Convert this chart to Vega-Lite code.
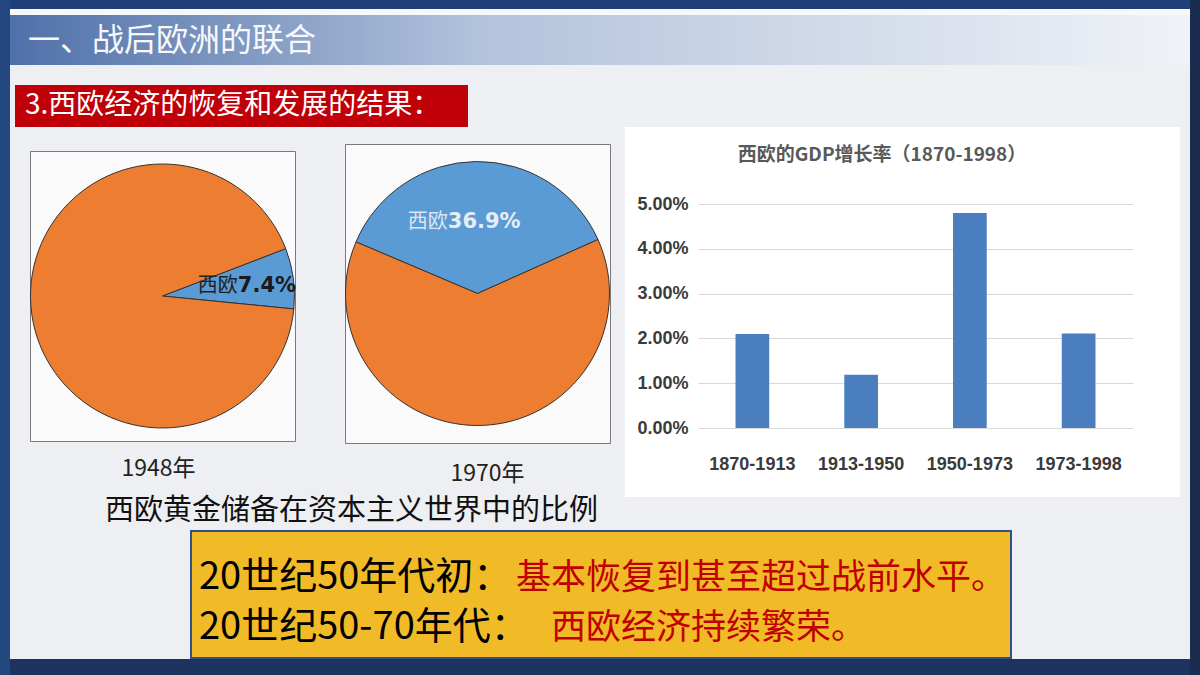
{
  "$schema": "https://vega.github.io/schema/vega-lite/v6.json",
  "background": "#eeeff2",
  "padding": 0,
  "config": {"view": {"stroke": null}, "font": "Noto Sans CJK SC", "concat": {"spacing": 0}},
  "hconcat": [
    {"width": 10, "height": 675, "view": {"fill": "#23477f"}, "data": {"values": []}, "mark": "point"},
    {
      "vconcat": [
        {"width": 1180, "height": 9, "view": {"fill": "#1e3f77"}, "data": {"values": []}, "mark": "point"},
        {"width": 1180, "height": 6, "view": {"fill": "#f7f8fa"}, "data": {"values": []}, "mark": "point"},
        {
          "width": 1180, "height": 50,
          "view": {"fill": {"gradient": "linear", "x1": 0, "y1": 0, "x2": 1, "y2": 0, "stops": [{"offset": 0, "color": "#4f70a9"}, {"offset": 0.4, "color": "#b3c3dc"}, {"offset": 1, "color": "#f0f2f7"}]}},
          "data": {"values": [{"t": "一、战后欧洲的联合"}]},
          "mark": {"type": "text", "align": "left", "baseline": "middle", "fontSize": 32, "font": "Noto Sans CJK SC", "color": "#f6f8fb"},
          "encoding": {"text": {"field": "t"}, "x": {"value": 18}, "y": {"value": 26}}
        },
        {"width": 1180, "height": 20, "data": {"values": []}, "mark": "point"},
        {
          "hconcat": [
            {"width": 5, "height": 42, "data": {"values": []}, "mark": "point"},
            {
              "width": 453, "height": 42,
              "view": {"fill": "#c00008"},
              "data": {"values": [{"t": "3.西欧经济的恢复和发展的结果："}]},
              "mark": {"type": "text", "align": "left", "baseline": "middle", "fontSize": 28, "font": "Noto Sans CJK SC", "color": "#ffffff"},
              "encoding": {"text": {"field": "t"}, "x": {"value": 10}, "y": {"value": 21}}
            }
          ],
          "spacing": 0
        },
        {
          "hconcat": [
            {"width": 18, "height": 370, "data": {"values": []}, "mark": "point"},
            {
              "vconcat": [
                {"width": 265, "height": 23, "data": {"values": []}, "mark": "point"},
                {
                  "width": 265, "height": 290,
                  "view": {"fill": "#fafafa", "stroke": "#7a7a7a", "strokeWidth": 1},
                  "title": {"text": "1948年", "orient": "bottom", "offset": 17, "dx": -4, "fontSize": 23, "font": "Noto Sans CJK SC", "fontWeight": "normal", "color": "#222222", "anchor": "middle"},
                  "data": {"values": [{"region": "西欧", "share": 0.074}, {"region": "其他", "share": 0.926}]},
                  "encoding": {
                    "theta": {"field": "share", "type": "quantitative", "stack": true, "scale": {"range": [1.204, 7.487]}},
                    "order": {"field": "share", "type": "quantitative", "sort": "ascending"}
                  },
                  "layer": [
                    {"mark": {"type": "arc", "outerRadius": 132, "stroke": "#333333", "strokeWidth": 1},
                     "encoding": {"color": {"field": "region", "type": "nominal", "scale": {"domain": ["西欧", "其他"], "range": ["#5b9bd5", "#ed7d31"]}, "legend": null}}},
                    {"transform": [{"filter": "datum.region === '西欧'"}],
                     "mark": {"type": "text", "text": "西欧", "radius": 76, "align": "right", "baseline": "middle", "fontSize": 20, "font": "Noto Sans CJK SC", "color": "#222222"}},
                    {"transform": [{"filter": "datum.region === '西欧'"}],
                     "mark": {"type": "text", "radius": 76, "align": "left", "baseline": "middle", "fontSize": 21, "fontWeight": "bold", "font": "DejaVu Sans", "color": "#1a1a1a"},
                     "encoding": {"text": {"field": "share", "type": "quantitative", "format": ".1%"}}}
                  ]
                }
              ],
              "spacing": 0
            },
            {"width": 46, "height": 370, "data": {"values": []}, "mark": "point"},
            {
              "vconcat": [
                {"width": 265, "height": 16, "data": {"values": []}, "mark": "point"},
                {
                  "width": 265, "height": 299,
                  "view": {"fill": "#fafafa", "stroke": "#7a7a7a", "strokeWidth": 1},
                  "title": {"text": "1970年", "orient": "bottom", "offset": 20, "dx": 10, "fontSize": 23, "font": "Noto Sans CJK SC", "fontWeight": "normal", "color": "#222222", "anchor": "middle"},
                  "data": {"values": [{"region": "西欧", "share": 0.369}, {"region": "其他", "share": 0.631}]},
                  "encoding": {
                    "theta": {"field": "share", "type": "quantitative", "stack": true, "scale": {"range": [-1.169, 5.114]}},
                    "order": {"field": "share", "type": "quantitative", "sort": "ascending"}
                  },
                  "layer": [
                    {"mark": {"type": "arc", "outerRadius": 132, "stroke": "#333333", "strokeWidth": 1},
                     "encoding": {"color": {"field": "region", "type": "nominal", "scale": {"domain": ["西欧", "其他"], "range": ["#5b9bd5", "#ed7d31"]}, "legend": null}}},
                    {"transform": [{"filter": "datum.region === '西欧'"}],
                     "mark": {"type": "text", "text": "西欧", "radius": 72, "dx": -29, "align": "right", "baseline": "middle", "fontSize": 20, "font": "Noto Sans CJK SC", "color": "#dde5ee"}},
                    {"transform": [{"filter": "datum.region === '西欧'"}],
                     "mark": {"type": "text", "radius": 72, "dx": -29, "align": "left", "baseline": "middle", "fontSize": 21, "fontWeight": "bold", "font": "DejaVu Sans", "color": "#e6edf5"},
                     "encoding": {"text": {"field": "share", "type": "quantitative", "format": ".1%"}}}
                  ]
                }
              ],
              "spacing": 0
            },
            {"width": 13, "height": 370, "data": {"values": []}, "mark": "point"},
            {
              "width": 555, "height": 370,
              "view": {"fill": "#ffffff"},
              "layer": [
                {
                  "data": {"values": [
                    {"period": "1870-1913", "rate": 0.021},
                    {"period": "1913-1950", "rate": 0.0119},
                    {"period": "1950-1973", "rate": 0.048},
                    {"period": "1973-1998", "rate": 0.0211}
                  ]},
                  "mark": {"type": "bar", "color": "#4a7ebf"},
                  "encoding": {
                    "x": {"field": "period", "type": "nominal", "sort": null,
                          "scale": {"range": [73, 508], "paddingInner": 0.69, "paddingOuter": 0.345},
                          "axis": {"title": null, "labelAngle": 0, "offset": -69, "labelPadding": 27, "ticks": false, "tickSize": 0, "domain": false, "grid": false, "labelFont": "Liberation Sans", "labelFontSize": 18, "labelFontWeight": "bold", "labelColor": "#3a3a3a"}},
                    "y": {"field": "rate", "type": "quantitative",
                          "scale": {"domain": [0, 0.05], "range": [301, 77], "nice": false},
                          "axis": {"title": null, "format": ".2%", "values": [0, 0.01, 0.02, 0.03, 0.04, 0.05], "offset": -73, "labelPadding": 10, "ticks": false, "tickSize": 0, "domain": false, "grid": true, "gridColor": "#d9d9d9", "labelFont": "Liberation Sans", "labelFontSize": 18, "labelFontWeight": "bold", "labelColor": "#3a3a3a"}}
                  }
                },
                {
                  "data": {"values": [{"t": "西欧的GDP增长率（1870-1998）"}]},
                  "mark": {"type": "text", "fontSize": 19, "fontWeight": "bold", "color": "#595959", "font": "Noto Sans CJK SC", "baseline": "middle"},
                  "encoding": {"text": {"field": "t"}, "x": {"value": 257}, "y": {"value": 28}}
                }
              ]
            }
          ],
          "spacing": 0
        },
        {
          "hconcat": [
            {"width": 95, "height": 26, "data": {"values": []}, "mark": "point"},
            {
              "width": 505, "height": 26,
              "data": {"values": [{"t": "西欧黄金储备在资本主义世界中的比例"}]},
              "mark": {"type": "text", "align": "left", "baseline": "middle", "fontSize": 29, "font": "Noto Sans CJK SC", "color": "#111111"},
              "encoding": {"text": {"field": "t"}, "x": {"value": 0}, "y": {"value": 13}}
            }
          ],
          "spacing": 0
        },
        {"width": 1180, "height": 4, "data": {"values": []}, "mark": "point"},
        {
          "hconcat": [
            {"width": 180, "height": 127, "data": {"values": []}, "mark": "point"},
            {
              "width": 820, "height": 127,
              "view": {"fill": "#f0bb26", "stroke": "#2f4f8f", "strokeWidth": 2},
              "data": {"values": [
                {"line": 1, "label": "20世纪50年代初：", "detail": "基本恢复到甚至超过战前水平。"},
                {"line": 2, "label": "20世纪50-70年代：", "detail": "西欧经济持续繁荣。"}
              ]},
              "encoding": {"y": {"field": "line", "type": "quantitative", "scale": {"domain": [0.06, 2.6], "reverse": true, "nice": false, "zero": false}, "axis": null}},
              "layer": [
                {"mark": {"type": "text", "align": "left", "baseline": "middle", "fontSize": 38, "font": "Noto Sans CJK SC", "color": "#000000"},
                 "encoding": {"text": {"field": "label"}, "x": {"value": 8}}},
                {"mark": {"type": "text", "align": "left", "baseline": "middle", "fontSize": 35, "font": "Noto Sans CJK SC", "color": "#c00000"},
                 "encoding": {"text": {"field": "detail"}, "x": {"field": "line", "type": "quantitative", "scale": {"domain": [1, 2], "range": [325, 360], "zero": false, "nice": false}, "axis": null}}}
              ]
            }
          ],
          "spacing": 0
        },
        {"width": 1180, "height": 18, "view": {"fill": "#1d3461"}, "data": {"values": []}, "mark": "point"}
      ],
      "spacing": 0
    },
    {"width": 10, "height": 675, "view": {"fill": "#1a2c50"}, "data": {"values": []}, "mark": "point"}
  ],
  "spacing": 0
}
